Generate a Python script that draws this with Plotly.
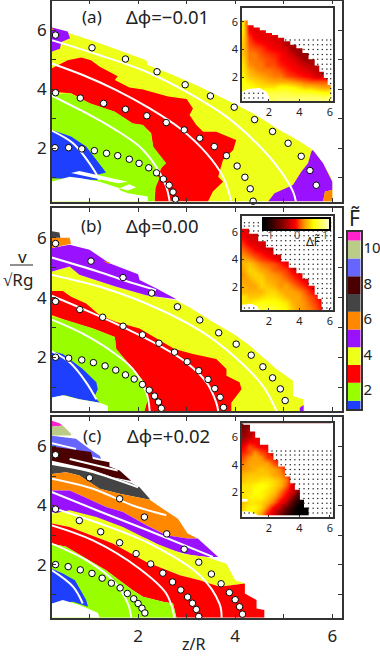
import numpy as np
import plotly.graph_objects as go

FONT = "Noto Sans"
INK = "#333333"
C_BLUE, C_LIME, C_RED, C_YEL, C_PUR, C_ORG = "#1f3fff", "#99ff00", "#ff0000", "#eeff1a", "#9911ff", "#ff8800"
C_GRAY, C_MAR, C_PERI, C_OLV, C_PINK = "#444444", "#4a0000", "#6666ff", "#bbcc88", "#ff22cc"

# ---------- panel (a) regions (z/R, v/sqrt(Rg)) ----------
a_regions = [
    (C_YEL, [(.22,6.09),(1.21,5.55),(2.17,4.98),(2.2,4.82),(2.72,4.48),(3.27,4.08),(3.96,3.52),(4.37,3.18),(4.6,2.95),(4.85,2.68),(5.1,2.45),(5.33,2.23),(5.6,1.94),(5.81,1.49),(6.0,.93),(6.0,.2),(.22,.2)]),
    (C_PUR, [(.22,6.09),(.55,5.95),(.6,5.72),(.42,5.6),(.39,5.37),(.22,5.27)]),
    (C_ORG, [(.22,6.07),(.27,6.03),(.22,5.98)]),
    (C_PUR, [(5.6,1.94),(5.81,1.49),(6.0,.87),(6.0,.59),(5.85,.54),(5.81,.2),(4.68,.2),(4.81,.48),(5.19,.76),(5.36,1.21),(5.5,1.49),(5.57,1.89)]),
    (C_ORG, [(6.0,.59),(5.85,.54),(5.81,.2),(6.0,.2)]),
    (C_RED, [(.22,4.70),(.55,4.98),(.83,5.07),(1.03,4.98),(1.21,4.76),(1.58,4.44),(1.52,4.31),(1.82,4.06),(2.10,3.99),(2.62,3.75),(3,3.67),(3.13,3.35),(3.06,3.13),(3.2,2.79),(3.34,2.56),(3.61,2.56),(4.02,2.28),(3.96,1.94),(3.75,1.61),(3.65,1.04),(3.75,.87),(3.54,.54),(3.44,.2),(2.34,.2),(2.37,.93),(2.51,1.44),(2.31,2.06),(2.27,2.51),(2.10,2.79),(1.89,2.84),(1.52,3.24),(1,3.52),(.62,3.86),(.22,3.91)]),
    (C_LIME, [(.22,3.80),(.59,3.86),(1,3.52),(1.52,3.24),(1.89,2.84),(2.10,2.79),(2.27,2.45),(2.31,2.06),(2.58,1.49),(2.37,1.16),(2.44,.99),(2.34,.59),(2.34,.2),(.22,.2)]),
    (C_BLUE, [(.22,2.62),(.62,2.4),(.93,2.06),(1.14,1.61),(1.34,1.18),(1.14,1.10),(1.17,.93),(.22,.99)]),
    ("white", [(.22,.87),(.59,1.04),(.83,.99),(1.21,.87),(1.62,.65),(1.62,.59),(1.79,.48),(2,.42),(2.20,.37),(2.20,.2),(.22,.2)]),
    ("white", [(.62,1.16),(.79,1.23),(1.79,.87),(1.58,.82)]),
    ("white", [(1.62,.65),(1.82,.78),(1.96,.68),(1.79,.57)]),
]
a_arcs = [
    [(.22,5.66),(1.21,5.15),(2.17,4.59),(3,3.91),(3.82,3.07),(4.51,2.06),(4.92,1.27),(5.19,.54),(5.25,.2)],
    [(.22,4.87),(.86,4.48),(1.55,3.97),(2.24,3.35),(2.86,2.68),(3.41,1.83),(3.75,1.04),(3.92,.2)],
    [(.22,3.78),(1,3.13),(1.48,2.68),(2.03,2.06),(2.37,1.38),(2.58,.7),(2.65,.2)],
    [(.22,2.6),(.66,2.17),(1,1.49),(1.21,.93)],
]
a_circles = [(.30,5.83),(1.05,5.40),(1.74,5.02),(2.39,4.59),(2.97,4.15),(3.49,3.77),(3.98,3.39),(4.40,2.97),(4.77,2.57),(5.09,2.17),(5.36,1.73),(5.54,1.25),(5.67,.75),
    (.30,3.88),(.81,3.70),(1.29,3.52),(1.74,3.32),(2.18,3.10),(2.58,2.87),(2.95,2.62),(3.27,2.34),(3.57,2.06),(3.82,1.75),(4.04,1.40),(4.20,1.02),(4.31,.63),(4.37,.21),
    (.29,2.02),(.57,2.02),(.84,1.98),(1.10,1.92),(1.35,1.83),(1.58,1.75),(1.82,1.63),(2.02,1.49),(2.22,1.34),(2.38,1.17),(2.52,.96),(2.64,.75),(2.72,.52),(2.77,.28)]

# ---------- panel (b) regions ----------
b_regions = [
    (C_YEL, [(.22,4.87),(.59,5.04),(.79,4.76),(1.55,4.36),(2.17,4.08),(2.79,3.91),(3.1,3.63),(3.54,3.18),(3.96,2.79),(4.30,2.39),(4.57,2.0),(4.85,1.61),(5.19,1.21),(5.19,.7),(5.40,.59),(5.41,.2),(.22,.2)]),
    (C_PUR, [(.22,5.66),(.59,5.77),(1.0,5.6),(1.41,5.15),(2.0,4.78),(2.03,4.59),(2.37,4.31),(2.79,3.94),(2.17,4.08),(1.55,4.36),(.79,4.76),(.59,5.04),(.22,4.87)]),
    (C_ORG, [(.22,6.0),(.59,6.0),(.62,5.8),(.22,5.66)]),
    (C_ORG, [(1.27,5.23),(1.41,5.18),(1.41,5.12)]),
    (C_GRAY, [(.22,6.22),(.38,6.18),(.4,6.0),(.22,6.0)]),
    (C_PUR, [(5.33,.31),(5.41,.4),(5.41,.2),(5.33,.2)]),
    (C_RED, [(.22,4.22),(.45,4.22),(.62,4.03),(.93,3.8),(1.21,3.41),(1.55,3.18),(2.03,2.96),(2.44,2.56),(2.75,2.28),(3.13,2.11),(3.61,1.94),(3.82,1.61),(3.82,1.38),(4.09,1.16),(4.13,.93),(3.92,.48),(3.92,.2),(2.13,.2),(2.2,.59),(2.13,1.16),(1.89,1.61),(1.55,2.28),(1.52,2.68),(1.07,2.96),(.52,3.24),(.22,3.41)]),
    (C_LIME, [(.22,3.35),(.52,3.24),(1.07,2.96),(1.52,2.68),(1.55,2.28),(1.89,1.61),(2.13,1.16),(2.2,.59),(2.13,.2),(1.38,.2),(1.38,.37),(1.21,.48),(.22,.48)]),
    (C_BLUE, [(.22,2.2),(.45,2.11),(.86,1.61),(1.14,1.16),(1.17,.93),(1.10,.68),(1.21,.48),(.79,.59),(.5,.73),(.22,.65)]),
    ("white", [(.22,.65),(.45,.73),(.79,.59),(1.21,.48),(1.38,.37),(1.38,.2),(.22,.2)]),
]
b_arcs = [
    [(.22,5.34),(1.14,4.89),(1.69,4.59),(2.37,4.25)],
    [(.22,4.76),(1.21,4.36),(2.24,3.75),(3.27,2.9),(3.96,2.06),(4.57,1.04),(4.85,.2)],
    [(.22,4.06),(1,3.52),(1.69,3.01),(2.44,2.39),(2.99,1.83),(3.41,1.16),(3.61,.48),(3.65,.2)],
    [(.22,3.26),(.86,2.79),(1.48,2.17),(1.89,1.61),(2.17,.82),(2.24,.2)],
    [(.22,2.2),(.59,1.83),(.93,1.16),(1.14,.59)],
]
b_circles = [(.30,5.81),(1.03,5.22),(1.69,4.67),(2.28,4.15),(2.81,3.69),(3.27,3.25),(3.66,2.82),(4.02,2.44),(4.33,2.07),(4.57,1.68),(4.77,1.31),(4.93,.94),(5.03,.55),
    (.30,3.87),(.80,3.60),(1.27,3.34),(1.69,3.04),(2.09,2.75),(2.43,2.47),(2.75,2.17),(3.01,1.85),(3.25,1.55),(3.44,1.26),(3.58,.95),(3.69,.66),(3.76,.32),
    (.30,2.0),(.57,1.97),(.84,1.91),(1.08,1.82),(1.32,1.71),(1.54,1.57),(1.74,1.41),(1.92,1.27),(2.09,1.09),(2.23,.90),(2.34,.70),(2.42,.50),(2.48,.29)]

# ---------- panel (c) regions ----------
c_regions = [
    (C_PINK, [(.22,6.88),(.38,6.79),(.45,6.71),(.22,6.67)]),
    (C_OLV, [(.22,6.67),(.45,6.71),(.62,6.43),(.62,6.37),(.22,6.37)]),
    (C_PERI, [(.22,6.37),(.72,6.26),(1,5.92),(1.21,5.69),(1.24,5.58),(.86,5.75),(.22,6.0)]),
    (C_MAR, [(.22,6.0),(1.03,5.81),(1.07,5.58),(1.41,5.47),(1.41,5.32),(1.62,5.19),(1.86,4.83),(1.48,4.96),(1,5.24),(.22,5.52)]),
    (C_GRAY, [(.22,5.41),(1,5.19),(1.86,4.76),(2.03,4.62),(2.24,4.23),(2.24,4.2),(1.62,4.4),(1.21,4.57),(.79,5.02),(.52,5.13),(.22,5.07)]),
    (C_ORG, [(.22,5.07),(.52,5.13),(.79,5.02),(1.21,4.57),(1.62,4.4),(2.24,4.2),(2.41,4),(2.82,3.55),(3.02,3.05),(3.23,2.88),(3.02,2.88),(2.58,2.99),(2.17,3.33),(1.69,3.78),(1.34,3.95),(.97,4.23),(.59,4.51),(.22,4.51)]),
    (C_PUR, [(.22,4.51),(.59,4.51),(.97,4.23),(1.34,3.95),(1.69,3.78),(2.17,3.33),(2.58,2.99),(3.02,2.88),(3.23,2.88),(3.65,2.26),(3.44,2.26),(3.09,2.32),(2.58,2.54),(2.17,2.88),(1.62,3.1),(1,3.5),(.22,3.78)]),
    (C_YEL, [(.22,3.72),(.59,3.84),(1.14,3.61),(1.69,3.27),(2.37,2.71),(2.92,2.37),(3.41,2.26),(3.82,2.03),(4,1.47),(4.2,1.36),(3.68,1.25),(3.27,1.47),(2.86,1.64),(2.17,2.09),(1.48,2.71),(.59,3.27),(.22,3.39)]),
    (C_RED, [(.22,3.39),(.59,3.27),(1.48,2.71),(2.17,2.09),(2.86,1.64),(3.27,1.47),(3.68,1.25),(4.2,1.36),(4.2,1.02),(4.44,.8),(4.44,.51),(4.6,.46),(4.6,.2),(2.79,.2),(2.72,.68),(2.51,.74),(2.1,.91),(1.89,1.13),(1.34,1.81),(.52,2.6),(.22,2.71)]),
    (C_LIME, [(.22,2.71),(.52,2.6),(1.34,1.81),(1.89,1.13),(2.1,.91),(2.51,.74),(2.72,.68),(2.79,.2),(.22,.2)]),
    (C_BLUE, [(.22,1.86),(.45,1.7),(.7,1.47),(.93,.8),(.97,.57),(.66,.74),(.22,.68)]),
    ("white", [(.22,.68),(.45,.8),(.79,.63),(1.17,.37),(1.21,.2),(.22,.2)]),
]
c_arcs = [
    [(.22,6.11),(.72,5.92)],
    [(.59,5.58),(1.58,5.19)],
    [(.22,5.41),(1,5.16),(2.0,4.62)],
    [(.22,4.91),(1.07,4.57),(1.89,4.0),(2.58,3.67)],
    [(.22,4.46),(1.21,3.8),(2.17,3.18),(3.54,2.26)],
    [(.22,3.93),(1.21,3.39),(2.24,2.71),(3.27,1.64),(3.68,.66),(3.72,.2)],
    [(.22,3.33),(1.07,2.82),(2.03,1.86),(2.58,1.02),(2.75,.2)],
    [(.22,2.71),(.93,2.15),(1.48,1.47),(1.79,.68),(1.86,.2)],
    [(.22,1.81),(.66,1.25),(.86,.68)],
]
c_circles = [(.30,5.72),(1.0,4.94),(1.62,4.23),(2.13,3.61),(2.59,3.04),(2.95,2.52),(3.25,2.08),(3.51,1.68),(3.71,1.35),(3.88,1.05),(4.0,.81),(4.09,.57),(4.15,.32),
    (.30,3.88),(.79,3.49),(1.23,3.11),(1.62,2.74),(1.96,2.37),(2.26,2.02),(2.51,1.71),(2.71,1.41),(2.88,1.14),(3.02,.90),(3.12,.69),(3.20,.48),(3.25,.24),
    (.30,2.0),(.56,1.93),(.81,1.82),(1.05,1.70),(1.26,1.54),(1.45,1.37),(1.63,1.21),(1.78,1.02),(1.91,.84),(2.0,.68),(2.08,.52),(2.14,.36)]

# ---------- inset heat maps: rows listed from top (y=6.9) to bottom (y=.5) ----------
heat_x = [.3,.7,1.1,1.5,1.9,2.3,2.7,3.1,3.5,3.9,4.3,4.7,5.1,5.5,5.9]
heat_y = [6.9,6.5,6.1,5.7,5.3,4.9,4.5,4.1,3.7,3.3,2.9,2.5,2.1,1.7,1.3,.9,.5]
heat_a = [
    [.5,-.1],[.5,-.1],[.5,-.1,-.15],[.5,-.1,-.15,-.1,0],[.5,-.05,-.15,-.15,-.1,-.1],
    [.45,.05,-.1,-.15,-.15,-.2,-.2],[.4,.1,0,-.05,-.1,-.15,-.2,-.35],[.4,.15,.1,.05,-.05,-.1,-.15,-.2,-.4],
    [.4,.2,.2,.1,.05,0,-.05,-.15,-.25,-.4],[.45,.2,.2,.15,.1,.05,-.05,-.1,-.15,-.25,-.4],
    [.5,.25,.2,.2,.1,.1,0,-.05,-.1,-.15,-.25,-.3],[.5,.35,.25,.2,.2,.15,.1,0,-.05,-.1,-.15,-.2,-.3],
    [.55,.4,.35,.3,.25,.2,.2,.1,.05,0,-.05,-.1,-.2,-.2],[.6,.5,.45,.4,.35,.3,.3,.3,.25,.2,.15,.1,.1,.1,.1],
    [.65,.6,.55,.5,.5,.5,.6,.6,.55,.5,.4,.4,.35,.3,.3],[.7,.7,.7,.7,.75,.75,.75,.75,.7,.7,.7,.7,.65,.6,.6],
    [.7,.7,.75,.75,.8,.8,.85,.85,.85,.85,.85,.85,.85,.85,.85],
]
heat_b = [
    [-.1,-.1],[-.1,-.15],[-.1,-.15,-.2],[-.1,-.2,-.2],[0,-.15,-.2,-.2],[.1,0,-.1,-.2,-.2],
    [.2,.1,0,-.05,-.15,-.2],[.3,.25,.15,.05,0,-.1,-.2,-.2],[.35,.4,.3,.2,.15,.1,0,-.1,-.2],
    [.3,.45,.4,.3,.25,.15,.1,.05,-.1,-.2],[.25,.4,.45,.4,.3,.25,.2,.1,0,-.1,-.2],
    [.3,.3,.4,.45,.35,.3,.25,.2,.1,0,-.1,-.2],[.35,.3,.3,.45,.4,.35,.25,.3,.2,.1,0,-.1,-.2],
    [.35,.35,.35,.35,.45,.45,.35,.3,.3,.25,.15,0,-.1,-.2],[.5,.4,.4,.45,.5,.5,.45,.35,.3,.3,.2,.1,0,-.1],
    [.5,.5,.55,.6,.6,.6,.55,.5,.35,.3,.25,.15,.05,-.1],[.55,.55,.65,.7,.7,.7,.6,.55,.4,.3,.25,.2,.1,-.05],
]
heat_c = [
    [-.6,-.5],[-.5,-.3],[-.4,-.35,-.1],[-.3,-.1,-.1,-.15],[-.1,.1,0,-.1],[0,.1,.25,.1,0],
    [.1,.25,.3,.25,.05,0],[.2,.3,.3,.3,.3,.1,0],[.25,.3,.35,.4,.35,.3,.2,0],[.35,.4,.4,.4,.4,.3,.25,.1,-.1],
    [.4,.45,.45,.5,.5,.45,.35,.2,-.05,-.2],[.5,.5,.55,.6,.55,.45,.35,.15,-.15,-.35],
    [.5,.5,.6,.55,.5,.4,.2,0,-.2,-.5,-.7],[.5,.55,.55,.55,.45,.3,.1,-.1,-.4,-.8,-1.0],
    [.4,.5,.5,.45,.35,.15,-.1,-.3,-.7,-1.0,-1.1],[.45,.55,.55,.45,.2,-.1,-.3,-.6,-.9,-1.1,-1.1,-1.1],
    [.5,.6,.5,.3,0,-.25,-.5,-.8,-1,-1.1,-1.1,-1.1],
]
edge_a = [(.25,6.1),(.6,5.75),(1,5.6),(1.4,5.4),(1.8,5.2),(2.2,5.05),(2.6,4.85),(3,4.6),(3.4,4.35),(3.8,4.1),(4.2,3.75),(4.6,3.3),(5,2.85),(5.3,2.4),(5.6,1.95),(5.85,1.45),(6.05,.95),(6.05,.29)]
edge_b = [(.25,6.2),(.7,5.85),(1.3,5.3),(1.8,4.85),(2.3,4.35),(2.8,3.85),(3.3,3.4),(3.8,3.0),(4.2,2.6),(4.6,2.1),(5,1.45),(5.2,1.15),(5.45,.55),(5.5,.35)]
edge_c = [(.25,7.0),(.32,6.89),(.76,6.4),(1.1,5.95),(1.41,5.44),(1.96,4.84),(2.3,4.35),(2.61,3.87),(3.05,3.15),(3.4,2.65),(3.7,2.18),(4.03,1.46),(4.3,.9),(4.6,.23)]
hole_a = [(.24,.96),(.63,1.16),(1.39,1.23),(1.83,.96),(2,.6),(2,.29),(.24,.29)]
hole_b = [(.24,.72),(.8,.8),(1.2,.65),(1.35,.35),(.24,.35)]
hole_c = [(.24,.62),(.7,.6),(1.2,.4),(1.25,.23),(.24,.23)]
fleck_c = [(.24,1.55),(.6,1.5),(.6,1.35),(.24,1.3)]
dot_x = [.4,.7,1.0,1.3,1.6,1.9,2.2,2.5,2.8,3.1,3.4,3.7,4.0,4.3,4.6,4.9,5.2,5.5,5.8,6.05]
dot_y = [.5,.85,1.2,1.55,1.9,2.25,2.6,2.95,3.3,3.65,4.0,4.35,4.7,5.0,5.35,5.7,6.05,6.4,6.65]
dot_top = {"a": 4.85, "b": 6.7, "c": 5.05}

# ---------- discrete colour key and the gradient scale of the inset ----------
key_edges = [.93,1.4,2.4,3.4,4.4,5.4,6.4,7.4,8.4,9.4,10.4,10.9]
key_colors = [C_BLUE,C_LIME,C_RED,C_YEL,C_PUR,C_ORG,C_GRAY,C_MAR,C_PERI,C_OLV,C_PINK]
hot_scale = [[0,"#000000"],[.27,"#7f0000"],[.47,"#ff0000"],[.62,"#ff9900"],[.76,"#ffff00"],[1,"#ffffcc"]]
scale_ticks = [-1.1,-1,-.9,-.8,-.7,-.6,-.5,-.4,-.3,-.2,-.1,0,.1,.2,.3,.4,.5,.6,.7,.8,.9,1,1.1]
scale_labels = ["−1","0","1"]

W, H = 380, 656
def xd(a, b): return [a / W, b / W]
def yd(top, bot): return [1 - bot / H, 1 - top / H]

fig = go.Figure()
main_ax = [("x","y",0.5,201.5,7.0),("x2","y2",208,411,7.0),("x3","y3",417,617.7,7.0)]

def poly(pts, col, xa, ya, shape="linear"):
    fig.add_trace(go.Scatter(x=[p[0] for p in pts], y=[p[1] for p in pts], mode="lines", fill="toself",
                             fillcolor=col, line=dict(width=0, color=col, shape=shape), hoverinfo="skip",
                             xaxis=xa, yaxis=ya, showlegend=False))

for (xa, ya, top, bot, ymax), regs, arcs, circ in zip(main_ax, [a_regions,b_regions,c_regions],
                                                      [a_arcs,b_arcs,c_arcs], [a_circles,b_circles,c_circles]):
    for col, pts in regs:
        poly(pts, col, xa, ya)
    for arc in arcs:
        fig.add_trace(go.Scatter(x=[p[0] for p in arc], y=[p[1] for p in arc], mode="lines",
                                 line=dict(color="white", width=2, shape="spline"), xaxis=xa, yaxis=ya, showlegend=False))
    fig.add_trace(go.Scatter(x=[p[0] for p in circ], y=[p[1] for p in circ], mode="markers", cliponaxis=False,
                             marker=dict(color="white", size=6.5, line=dict(color="black", width=1)),
                             xaxis=xa, yaxis=ya, showlegend=False))

# insets
insets = [("x4","y4",8,101,.29,7.0,heat_a,edge_a,[hole_a],"a"),
          ("x5","y5",215.7,310,.35,7.15,heat_b,edge_b,[hole_b],"b"),
          ("x6","y6",423.3,516.7,.23,7.0,heat_c,edge_c,[hole_c,fleck_c],"c")]
for xa, ya, top, bot, y0, y1, grid, edge, holes, tag in insets:
    z = [r + [r[-1]] * (len(heat_x) - len(r)) for r in grid]
    fig.add_trace(go.Heatmap(x=heat_x, y=heat_y, z=z, colorscale=hot_scale, zmin=-1.1, zmax=1.1, zsmooth="best",
                             showscale=False, xaxis=xa, yaxis=ya, hoverinfo="skip"))
    mask = edge + [(6.2, y0), (6.2, y1), (.235, y1), (.235, edge[0][1])]
    poly(mask, "white", xa, ya, shape="hv")
    for h in holes:
        poly(h, "white", xa, ya)
    ex = [p[0] for p in edge]; ey = [p[1] for p in edge]
    dx, dy = [], []
    for yy in dot_y:
        for xx in dot_x:
            if yy > dot_top[tag]:
                continue
            above = xx > ex[-1] or yy > float(np.interp(xx, ex, ey)) + .1
            inhole = any(xx < max(p[0] for p in h) - .1 and yy < max(p[1] for p in h) - .1 for h in holes[:1])
            if above or inhole:
                dx.append(xx); dy.append(yy)
    fig.add_trace(go.Scatter(x=dx, y=dy, mode="markers", marker=dict(color="#222222", size=1.5),
                             xaxis=xa, yaxis=ya, showlegend=False, hoverinfo="skip"))

# discrete colour key
for i, col in enumerate(key_colors):
    fig.add_trace(go.Bar(x=[.5], y=[key_edges[i+1]-key_edges[i]], base=[key_edges[i]], width=1, marker=dict(color=col, line=dict(width=0)),
                         xaxis="x7", yaxis="y7", showlegend=False, hoverinfo="skip"))

# gradient scale inside inset (b)
fig.add_trace(go.Heatmap(x=scale_ticks, y=[0,1], z=[scale_ticks, scale_ticks], colorscale=hot_scale, zmin=-1.1, zmax=1.1, zsmooth="best",
                         showscale=False, xaxis="x8", yaxis="y8", hoverinfo="skip"))

layout = dict(width=W, height=H, autosize=False, margin=dict(l=0,r=0,t=0,b=0), paper_bgcolor="white", plot_bgcolor="white",
              font=dict(family=FONT, color="#222222"), barmode="overlay", showlegend=False)
for i, (xa, ya, top, bot, ymax) in enumerate(main_ax):
    suf = "" if i == 0 else str(i+1)
    layout["xaxis"+suf] = dict(domain=xd(52,342), range=[.227,6.2], anchor="y"+suf, tickvals=[1,2,3,4,5,6], ticktext=["","2","","4","","6"],
                               showticklabels=(i==2), ticks="inside", ticklen=4, tickwidth=1, tickcolor=INK, showgrid=False, zeroline=False,
                               showline=True, linecolor=INK, linewidth=1.5, mirror="allticks", tickfont=dict(size=17), ticklabelstandoff=2)
    layout["yaxis"+suf] = dict(domain=yd(top,bot), range=[.2,ymax], anchor="x"+suf, tickvals=[1,2,3,4,5,6], ticktext=["","2","","4","","6"],
                               ticks="inside", ticklen=4, tickwidth=1, tickcolor=INK, showgrid=False, zeroline=False,
                               showline=True, linecolor=INK, linewidth=1.5, mirror="allticks", tickfont=dict(size=17))
for i, (xa, ya, top, bot, y0, y1, *_rest) in enumerate(insets):
    n = i + 4
    layout[f"xaxis{n}"] = dict(domain=xd(242,333), range=[.235,6.2], anchor=f"y{n}", tickvals=[2,4,6], ticks="inside", ticklen=2, tickcolor=INK,
                               showgrid=False, zeroline=False, showline=True, linecolor=INK, linewidth=1.5, mirror=True, tickfont=dict(size=11))
    layout[f"yaxis{n}"] = dict(domain=yd(top,bot), range=[y0,y1], anchor=f"x{n}", tickvals=[2,4,6], ticks="inside", ticklen=2, tickcolor=INK,
                               showgrid=False, zeroline=False, showline=True, linecolor=INK, linewidth=1.5, mirror=True, tickfont=dict(size=11))
layout["xaxis7"] = dict(domain=xd(348,360.7), range=[0,1], anchor="y7", showticklabels=False, ticks="", showgrid=False, zeroline=False,
                        showline=True, linecolor=INK, linewidth=1.5, mirror=True)
layout["yaxis7"] = dict(domain=yd(231.7,409), range=[.93,10.9], anchor="x7", side="right", tickvals=[2,4,6,8,10], ticks="", showgrid=False, zeroline=False,
                        showline=True, linecolor=INK, linewidth=1.5, mirror=True, tickfont=dict(size=15), ticklabelstandoff=-2)
layout["xaxis8"] = dict(domain=xd(264,329), range=[-1.1,1.1], anchor="y8", showticklabels=False, ticks="", showgrid=False, zeroline=False,
                        showline=True, linecolor="black", linewidth=1.5, mirror=True)
layout["yaxis8"] = dict(domain=yd(219,229), range=[0,1], anchor="x8", showticklabels=False, ticks="", showgrid=False, zeroline=False,
                        showline=True, linecolor="black", linewidth=1.5, mirror=True)
# the default template grows the margins to fit tick labels: the domains above are exact pixels, so switch that off
for key in list(layout):
    if key.startswith(("xaxis", "yaxis")):
        layout[key]["automargin"] = False

def note(px, py, text, size=16, xanchor="center", color="#222222"):
    return dict(x=px/W, y=1-py/H, xref="paper", yref="paper", text=text, showarrow=False, font=dict(size=size, family=FONT, color=color),
                xanchor=xanchor, yanchor="middle", bgcolor="rgba(0,0,0,0)")
layout["annotations"] = [
    note(92,16,"(a)",17), note(167,17,"Δϕ=−0.01",18.5),
    note(91,225,"(b)",17), note(162,225,"Δϕ=0.00",18.5),
    note(92,435,"(c)",17), note(168,435,"Δϕ=+0.02",18.5),
    note(193,644,"z/R",16), note(22,256,"v",17), note(18,279,"√Rg",17),
    note(354,218,"F\u0303",21), note(313,241,"ΔF\u0303",12),
    note(267,235,scale_labels[0],11,color="#555555"), note(297,235,scale_labels[1],11,color="#555555"), note(325,235,scale_labels[2],11,color="#555555"),
]
layout["shapes"] = [dict(type="line", xref="paper", yref="paper", x0=10/W, x1=33/W, y0=1-265/H, y1=1-265/H, line=dict(color="#222222", width=1))]
fig.update_layout(**layout)
fig.write_html("out.html", config={"displayModeBar": False}, post_script="document.body.style.margin='0';")
